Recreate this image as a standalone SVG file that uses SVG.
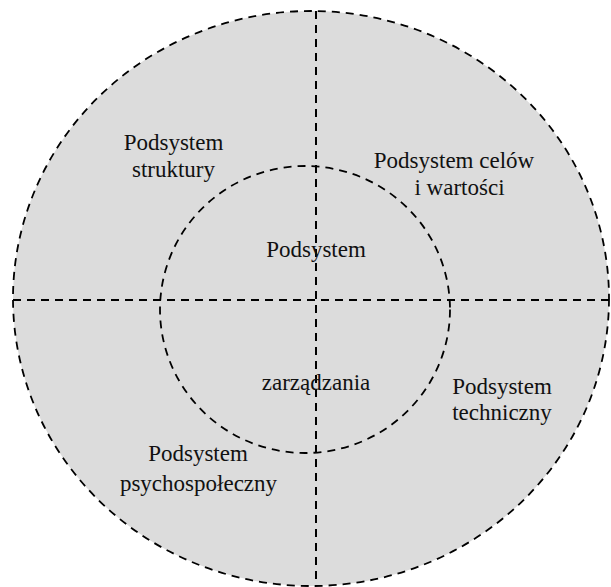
<svg xmlns="http://www.w3.org/2000/svg" width="611" height="587" viewBox="0 0 611 587">
<style>
.ln{fill:none;stroke:#000;stroke-width:2;stroke-dasharray:8 6}
.c{stroke:#000;stroke-width:1.8;stroke-dasharray:8 6}
.t text{font-family:'Liberation Serif','Times New Roman',serif;font-size:23px;fill:#111;text-anchor:middle}
</style>
<rect width="611" height="587" fill="#fff"/>
<g id="outer"><ellipse class="c" cx="311" cy="298.5" rx="298" ry="287.5" fill="#dcdcdc"/></g>
<g id="inner"><ellipse class="c" cx="305" cy="309.5" rx="145" ry="143.5" fill="none"/></g>
<g id="connectors">
<line class="ln" x1="316" y1="11" x2="316" y2="586"/>
<line class="ln" x1="13" y1="300" x2="609" y2="300"/>
</g>
<g class="t" font-family="Liberation Serif, serif">
<g id="struktury"><text x="173.5" y="150">Podsystem</text><text x="173.5" y="177">struktury</text></g>
<g id="celow"><text x="454" y="168">Podsystem celów</text><text x="459.5" y="195">i wartości</text></g>
<g id="zarzadzania"><text x="316" y="257">Podsystem</text><text x="316" y="390">zarządzania</text></g>
<g id="techniczny"><text x="502" y="394">Podsystem</text><text x="502" y="420">techniczny</text></g>
<g id="psychospoleczny"><text x="198" y="461">Podsystem</text><text x="198.5" y="491">psychospołeczny</text></g>
</g>
</svg>
